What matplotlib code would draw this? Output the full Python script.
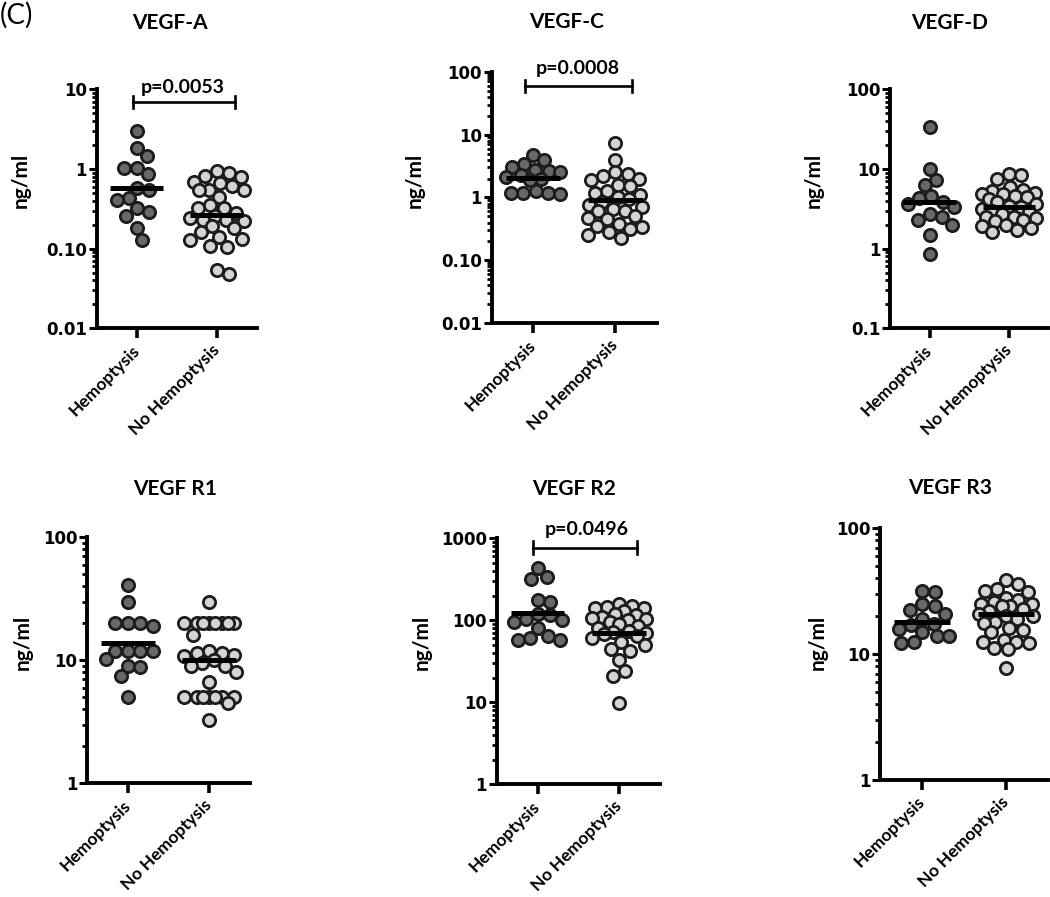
import numpy as np
import matplotlib
matplotlib.use("Agg")
import matplotlib.pyplot as plt
from matplotlib.ticker import FixedLocator, NullFormatter
import matplotlib.transforms as mtransforms

W, H = 1050, 897

# ---------------- data ----------------
categories = ["Hemoptysis", "No Hemoptysis"]
panel_titles = ["VEGF-A", "VEGF-C", "VEGF-D", "VEGF R1", "VEGF R2", "VEGF R3"]

vegfa_hemo = [3.0, 1.84, 1.47, 1.04, 1.04, 0.87, 0.58, 0.54, 0.43, 0.41, 0.32, 0.29, 0.26, 0.18, 0.13]
vegfa_nohemo = [0.94, 0.88, 0.82, 0.79, 0.69, 0.66, 0.62, 0.55, 0.54, 0.54, 0.45, 0.35, 0.32, 0.32,
                0.28, 0.26, 0.24, 0.23, 0.23, 0.22, 0.19, 0.18, 0.16, 0.14, 0.134, 0.13, 0.107,
                0.105, 0.054, 0.048]

vegfc_hemo = [4.8, 4.0, 3.4, 3.0, 2.7, 2.6, 2.5, 2.3, 2.1, 2.0, 1.9, 1.25, 1.2, 1.2, 1.2, 1.15]
vegfc_nohemo = [7.3, 4.0, 2.5, 2.4, 2.2, 2.0, 1.9, 1.6, 1.5, 1.25, 1.2, 1.1, 1.0, 0.95, 0.85,
                0.75, 0.7, 0.66, 0.62, 0.6, 0.5, 0.48, 0.45, 0.38, 0.35, 0.34, 0.32, 0.28,
                0.25, 0.23]

vegfd_hemo = [34, 10, 7.3, 6.3, 4.6, 4.3, 3.9, 3.6, 3.3, 2.7, 2.5, 2.3, 2.0, 1.5, 0.86]
vegfd_nohemo = [8.6, 8.5, 7.4, 6.0, 5.5, 5.3, 5.0, 4.9, 4.8, 4.6, 4.4, 4.2, 3.9, 3.6, 3.4, 3.3,
                3.1, 3.0, 2.9, 2.7, 2.5, 2.5, 2.4, 2.3, 2.2, 2.0, 1.9, 1.8, 1.7, 1.6]

r1_hemo = [41, 30, 20, 20, 20, 19, 12, 12, 12, 12, 10.2, 9.0, 8.9, 7.4, 5.0]
r1_nohemo = [30, 20, 20, 20, 20, 20, 20, 20, 20, 16, 12, 11.5, 11.5, 11, 10.8, 10, 9.5, 9, 9, 8,
             6.7, 5, 5, 5, 5, 5, 5, 5, 4.5, 3.3]

r2_hemo = [430, 340, 320, 175, 165, 120, 115, 105, 100, 95, 80, 65, 60, 58, 57]
r2_nohemo = [160, 150, 145, 140, 140, 130, 120, 115, 110, 108, 105, 100, 95, 90, 85, 80, 75, 72,
             70, 68, 65, 60, 55, 50, 45, 42, 33, 24, 21, 9.7]

r3_hemo = [32, 31, 25, 24, 22.5, 21, 19, 17.5, 17, 15.8, 15, 14, 14, 12.6, 12.3]
r3_nohemo = [39, 36, 33, 32, 31, 28, 27, 26, 25, 25, 24, 24, 23, 22, 21, 20, 20, 19, 18, 17.6,
             16, 15.5, 15, 13, 12.5, 12.4, 12.3, 11.2, 11, 7.7]

hemo_series = [vegfa_hemo, vegfc_hemo, vegfd_hemo, r1_hemo, r2_hemo, r3_hemo]
nohemo_series = [vegfa_nohemo, vegfc_nohemo, vegfd_nohemo, r1_nohemo, r2_nohemo, r3_nohemo]

# center (horizontal bar) values
hemo_center = [0.58, 2.02, 3.8, 13.9, 124, 17.9]
nohemo_center = [0.267, 0.91, 3.37, 10.0, 70.6, 20.9]

ylims = [(0.01, 10), (0.01, 100), (0.1, 100), (1, 100), (1, 1000), (1, 100)]
ytick_values = [[0.01, 0.1, 1, 10], [0.01, 0.1, 1, 10, 100], [0.1, 1, 10, 100],
                [1, 10, 100], [1, 10, 100, 1000], [1, 10, 100]]
ytick_labels = [["0.01", "0.10", "1", "10"], ["0.01", "0.10", "1", "10", "100"],
                ["0.1", "1", "10", "100"], ["1", "10", "100"], ["1", "10", "100", "1000"],
                ["1", "10", "100"]]
p_texts = ["p=0.0053", "p=0.0008", None, None, "p=0.0496", None]
y_label = "ng/ml"
panel_tag = "(C)"

# ---------------- layout (pixels) ----------------
boxes = [(96.7, 256.7, 89.3, 328.3), (491.7, 656.7, 71.7, 323.3), (890, 1048.3, 89.3, 328.3),
         (87.3, 250, 537.3, 783.3), (496.7, 660, 538.3, 784.3), (880, 1048, 528.3, 780)]
title_pos = [(170, 23), (567, 22), (950, 23), (175, 489), (574, 489), (950, 488)]
ylabel_pos = [(21, 180), (415, 180), (813.5, 180), (23, 642), (422, 642), (818, 642)]
bracket_x = {0: (-0.043, 1.229), 1: (-0.096, 1.197), 4: (-0.052, 1.221)}
bracket_y = {0: 0.948, 1: 0.943, 4: 0.962}
ptext_pos = {0: (0.579, 1.008), 1: (0.546, 1.013), 4: (0.609, 1.034)}

DARK = "#686868"
LIGHT = "#d4d4d4"
EDGE = "#1c1c1c"

plt.rcParams["font.family"] = ["Lato", "DejaVu Sans"]
fig = plt.figure(figsize=(W / 100, H / 100), dpi=100)


def fx(x):
    return x / W


def fy(y):
    return 1 - y / H


def swarm_x(ax, xc, vals, d=12.5, maxhalf=27.0):
    vals = np.asarray(vals, float)
    disp = ax.transData.transform(np.column_stack([np.full(len(vals), xc), vals]))
    x0 = disp[0, 0]
    ys = disp[:, 1]
    order = np.argsort(-vals, kind="stable")
    px, py = [], []
    offs = np.zeros(len(vals))
    mags = np.arange(0, maxhalf + 1e-9, 0.5)
    for i in order:
        y = ys[i]
        if not px:
            offs[i] = 0.0
            px.append(0.0)
            py.append(y)
            continue
        PX = np.array(px)
        PY = np.array(py)
        chosen = None
        best_c, best_md = 0.0, -1.0
        for m in mags:
            cs = [m] if m == 0 else [m, -m]
            mds = [np.min(np.hypot(c - PX, y - PY)) for c in cs]
            j = int(np.argmax(mds))
            if mds[j] >= d:
                chosen = cs[j]
                break
            if mds[j] > best_md + 1e-9:
                best_md = mds[j]
                best_c = cs[j]
        if chosen is None:
            chosen = best_c
        offs[i] = chosen
        px.append(chosen)
        py.append(y)
    pts = ax.transData.inverted().transform(np.column_stack([x0 + offs, ys]))
    return pts[:, 0]


for k in range(6):
    l, r, t, b = boxes[k]
    ax = fig.add_axes([fx(l), fy(b), (r - l) / W, (b - t) / H])
    ax.set_yscale("log")
    ax.set_ylim(*ylims[k])
    ax.set_xlim(-0.5, 1.5)
    for s in ["top", "right"]:
        ax.spines[s].set_visible(False)
    for s in ["left", "bottom"]:
        ax.spines[s].set_linewidth(2.8)
        ax.spines[s].set_color("black")
        ax.spines[s].set_capstyle("projecting")

    lo, hi = ylims[k]
    minors = []
    dec = lo
    while dec < hi * 0.999:
        minors += [dec * m for m in range(2, 10)]
        dec *= 10
    ax.yaxis.set_major_locator(FixedLocator(ytick_values[k]))
    ax.yaxis.set_minor_locator(FixedLocator(minors))
    ax.yaxis.set_minor_formatter(NullFormatter())
    ax.set_yticklabels(ytick_labels[k], fontfamily="DejaVu Sans", fontweight="bold", fontsize=12)
    ax.tick_params(axis="y", which="major", length=6, width=2.2, pad=1)
    ax.tick_params(axis="y", which="minor", length=3.5, width=2.0)

    ax.set_xticks([0, 1])
    ax.set_xticklabels(categories, rotation=45, ha="right", va="center",
                       rotation_mode="anchor", fontweight="bold", fontsize=12.5)
    ax.tick_params(axis="x", which="major", length=7, width=2.6, pad=7)
    ax.tick_params(axis="x", which="minor", length=0)

    for xc, vals, col in [(0, hemo_series[k], DARK), (1, nohemo_series[k], LIGHT)]:
        xs = swarm_x(ax, xc, vals)
        ax.scatter(xs, vals, s=78, facecolor=col, edgecolor=EDGE, linewidth=2.0,
                   zorder=3, clip_on=False)

    for xc, c in [(0, hemo_center[k]), (1, nohemo_center[k])]:
        ax.plot([xc - 0.33, xc + 0.33], [c, c], color="black", lw=3.6,
                solid_capstyle="butt", zorder=4)

    if p_texts[k] is not None:
        trans = mtransforms.blended_transform_factory(ax.transData, ax.transAxes)
        x1, x2 = bracket_x[k]
        yb = bracket_y[k]
        cap = 0.025
        ax.plot([x1, x2], [yb, yb], color="black", lw=1.9, transform=trans, clip_on=False)
        ax.plot([x1, x1], [yb - cap, yb + cap], color="black", lw=1.9, transform=trans, clip_on=False)
        ax.plot([x2, x2], [yb - cap, yb + cap], color="black", lw=1.9, transform=trans, clip_on=False)
        tx, ty = ptext_pos[k]
        ax.text(tx, ty, p_texts[k], transform=trans, ha="center", va="center",
                fontweight="bold", fontsize=14)

    tpx, tpy = title_pos[k]
    fig.text(fx(tpx), fy(tpy), panel_titles[k], ha="center", va="center",
             fontweight="bold", fontsize=15)
    lpx, lpy = ylabel_pos[k]
    fig.text(fx(lpx), fy(lpy), y_label, ha="center", va="center", rotation=90,
             fontweight="bold", fontsize=15)

fig.text(fx(0), fy(15), panel_tag, ha="left", va="center", fontsize=20)

fig.savefig("out.png", dpi=100)
